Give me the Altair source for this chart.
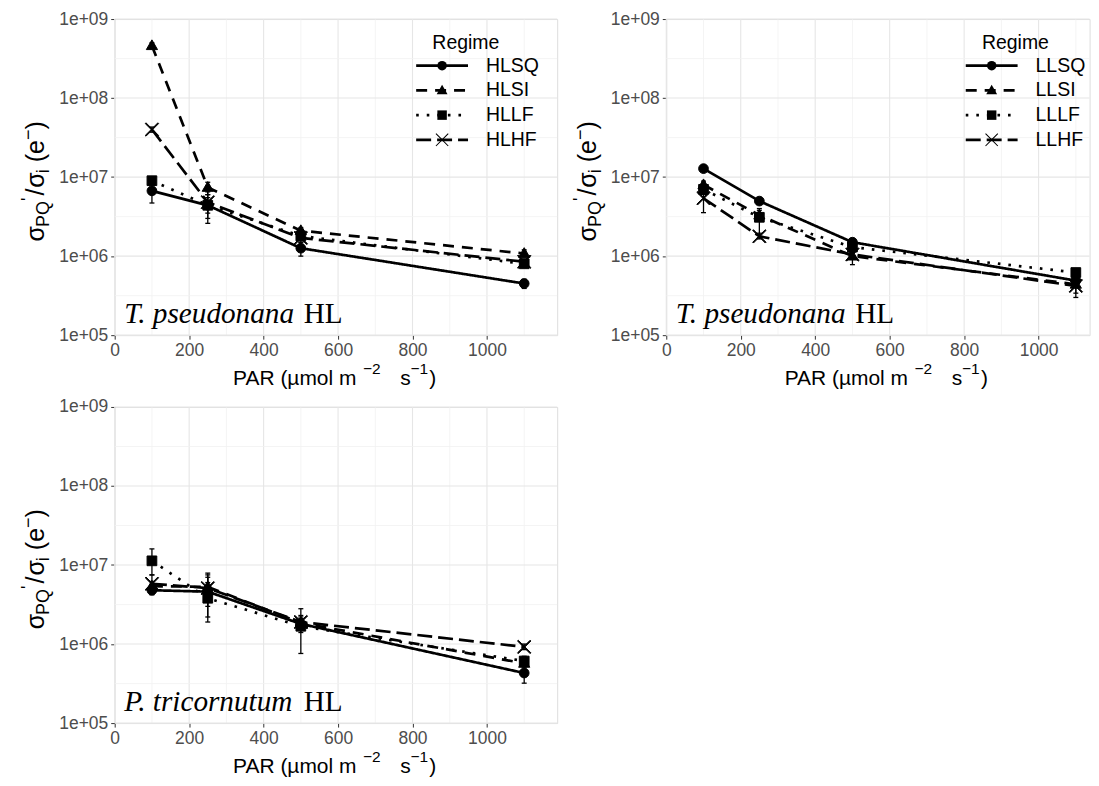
import math
import altair as alt
import pandas as pd

# ---------------- data ----------------
PAR = [100, 250, 500, 1100]

# Panel A: T. pseudonana, HL regimes
A_REGIMES = ["HLSQ", "HLSI", "HLLF", "HLHF"]
A_HLSQ = [6.7e6, 4.4e6, 1.26e6, 4.5e5]
A_HLSI = [4.6e8, 7.4e6, 2.1e6, 1.08e6]
A_HLLF = [9.0e6, 4.4e6, 1.8e6, 8.0e5]
A_HLHF = [4.0e7, 4.8e6, 1.7e6, 8.5e5]
A_HLSQ_LO = [4.7e6, 2.6e6, 1.0e6, 3.9e5]
A_HLSQ_HI = [8.5e6, 6.0e6, 1.5e6, 5.1e5]
A_HLSI_LO = [4.2e8, 6.0e6, 1.9e6, 9.8e5]
A_HLSI_HI = [5.0e8, 8.6e6, 2.3e6, 1.2e6]
A_HLLF_LO = [8.0e6, 3.5e6, 1.6e6, 7.2e5]
A_HLLF_HI = [1.0e7, 5.5e6, 2.0e6, 8.8e5]
A_HLHF_LO = [3.7e7, 3.0e6, 1.5e6, 7.8e5]
A_HLHF_HI = [4.3e7, 6.5e6, 1.9e6, 9.2e5]

# Panel B: T. pseudonana, LL regimes
B_REGIMES = ["LLSQ", "LLSI", "LLLF", "LLHF"]
B_LLSQ = [1.28e7, 4.97e6, 1.5e6, 4.9e5]
B_LLSI = [8.0e6, 3.3e6, 1.0e6, 4.4e5]
B_LLLF = [7.0e6, 3.1e6, 1.3e6, 6.2e5]
B_LLHF = [5.4e6, 1.78e6, 1.05e6, 4.2e5]
B_LLSQ_LO = [1.2e7, 4.6e6, 1.4e6, 4.6e5]
B_LLSQ_HI = [1.38e7, 5.4e6, 1.6e6, 5.2e5]
B_LLSI_LO = [7.2e6, 2.9e6, 7.8e5, 3.0e5]
B_LLSI_HI = [8.9e6, 3.8e6, 1.2e6, 5.4e5]
B_LLLF_LO = [6.0e6, 1.7e6, 1.1e6, 5.7e5]
B_LLLF_HI = [8.0e6, 4.0e6, 1.5e6, 6.8e5]
B_LLHF_LO = [3.55e6, 1.65e6, 9.5e5, 3.4e5]
B_LLHF_HI = [7.0e6, 1.95e6, 1.15e6, 5.0e5]

# Panel C: P. tricornutum, HL regimes
C_REGIMES = ["HLSQ", "HLSI", "HLLF", "HLHF"]
C_HLSQ = [4.8e6, 4.6e6, 1.8e6, 4.3e5]
C_HLSI = [5.4e6, 5.3e6, 1.85e6, 5.7e5]
C_HLLF = [1.13e7, 3.8e6, 1.68e6, 6.1e5]
C_HLHF = [5.8e6, 5.1e6, 1.9e6, 9.2e5]
C_HLSQ_LO = [4.2e6, 3.0e6, 1.5e6, 3.2e5]
C_HLSQ_HI = [5.4e6, 7.5e6, 2.1e6, 5.2e5]
C_HLSI_LO = [4.8e6, 2.2e6, 1.4e6, 5.0e5]
C_HLSI_HI = [6.2e6, 7.9e6, 2.3e6, 6.5e5]
C_HLLF_LO = [7.5e6, 1.9e6, 7.6e5, 5.4e5]
C_HLLF_HI = [1.6e7, 6.0e6, 2.8e6, 7.0e5]
C_HLHF_LO = [5.0e6, 3.5e6, 1.6e6, 8.5e5]
C_HLHF_HI = [7.5e6, 7.0e6, 2.2e6, 1.0e6]

SPECIES = ["T. pseudonana", "T. pseudonana", "P. tricornutum"]
LIGHT = "HL"

X_MAJOR = [0, 200, 400, 600, 800, 1000]
X_MINOR = [100, 300, 500, 700, 900, 1100]
Y_MAJOR = [1e5, 1e6, 1e7, 1e8, 1e9]
Y_MINOR = [3.162e5, 3.162e6, 3.162e7, 3.162e8]

# ---------------- style ----------------
SANS = "Liberation Sans"
SERIF = "Liberation Serif"
DASHES = [[1, 0], [11, 8], [2.6, 8], [15, 6]]


def x_marker_path(a=0.11, tip=1.3):
    # thin filled "x" (a plus sign turned by 45 degrees)
    L = tip * math.sqrt(2)
    pts = [(a, L), (a, a), (L, a), (L, -a), (a, -a), (a, -L),
           (-a, -L), (-a, -a), (-L, -a), (-L, a), (-a, a), (-a, L)]
    r = [((x - y) / math.sqrt(2), (x + y) / math.sqrt(2)) for x, y in pts]
    return "M" + "L".join(f"{x:.3f},{y:.3f}" for x, y in r) + "Z"


TRIANGLE = "M0,-1.2L1.15,0.8L-1.15,0.8Z"
SHAPES = ["circle", TRIANGLE, "square", x_marker_path()]
GRID = "#E6E6E6"
GRID_MINOR = "#F1F1F1"
ZW = "\u200b"  # keeps the marker legend separate from the line legend

W1, W2, H = 443.7, 424.5, 317.0
XMAX1 = 1188.6
XMAX2 = 1137.0

ONE = pd.DataFrame({"k": [0]})


def make_df(regimes, means, los, his):
    rows = []
    for r, m, lo, hi in zip(regimes, means, los, his):
        for x, a, b, c in zip(PAR, m, lo, hi):
            rows.append({"x": x, "y": a, "lo": b, "hi": c, "Regime": r, "Regime_": r + ZW})
    return pd.DataFrame(rows)


dfA = make_df(A_REGIMES, [A_HLSQ, A_HLSI, A_HLLF, A_HLHF],
              [A_HLSQ_LO, A_HLSI_LO, A_HLLF_LO, A_HLHF_LO],
              [A_HLSQ_HI, A_HLSI_HI, A_HLLF_HI, A_HLHF_HI])
dfB = make_df(B_REGIMES, [B_LLSQ, B_LLSI, B_LLLF, B_LLHF],
              [B_LLSQ_LO, B_LLSI_LO, B_LLLF_LO, B_LLHF_LO],
              [B_LLSQ_HI, B_LLSI_HI, B_LLLF_HI, B_LLHF_HI])
dfC = make_df(C_REGIMES, [C_HLSQ, C_HLSI, C_HLLF, C_HLHF],
              [C_HLSQ_LO, C_HLSI_LO, C_HLLF_LO, C_HLHF_LO],
              [C_HLSQ_HI, C_HLSI_HI, C_HLLF_HI, C_HLHF_HI])


def text_layer(txt, x, y, size, font=SANS, style="normal", angle=0, align="left"):
    return alt.Chart(ONE).mark_text(
        text=txt, font=font, fontSize=size, fontStyle=style, angle=angle,
        align=align, baseline="alphabetic", color="black"
    ).encode(x=alt.value(x), y=alt.value(y))


# approximate advance widths (em) for y-title layout
EM = {"σ": 0.58, "P": 0.667, "Q": 0.778, "'": 0.191, "/": 0.278, "i": 0.222,
      "(": 0.333, "e": 0.556, "−": 0.584, ")": 0.333}


def ytitle_layers():
    main, script = 25, 18
    base = -70.7
    pieces = [("σ", "m", 0), ("PQ", "b", 0), ("'", "p", 2), ("/", "m", 1), ("σ", "m", 0),
              ("i", "b", 7), ("(e", "m", 0), ("−", "p", 0), (")", "m", 0)]
    y = 223.0
    out = []
    for txt, kind, extra in pieces:
        size = main if kind == "m" else script
        bx = base + (5 if kind == "b" else (-10 if kind == "p" else 0))
        out.append(text_layer(txt, bx, y, size, angle=270))
        y -= sum(EM[c] for c in txt) * size + extra
    return out


def xtitle_layers(h):
    yb = h + 50
    ys = yb - 11
    return [
        text_layer("PAR (µmol m", 118.7, yb, 21),
        text_layer("−2", 249, ys, 15.5),
        text_layer("s", 286.3, yb, 21),
        text_layer("−1", 296.5, ys, 15.5),
        text_layer(")", 315.5, yb, 21),
    ]


def label_layers(species, h):
    yb = h - 11.7
    return [
        text_layer(species, 9.5, yb, 29.3, font=SERIF, style="italic"),
        text_layer(LIGHT, 9.5 + 180, yb, 29.3, font=SERIF),
    ]


XAXIS = alt.Axis(values=X_MAJOR, title=None, grid=False, domain=False, tickSize=4,
                 tickColor="#333333", tickWidth=1, labelColor="#4D4D4D", format="d",
                 labelFontSize=17.5, labelFont=SANS, labelPadding=2, labelFlush=False)
YAXIS = alt.Axis(values=Y_MAJOR, title=None, grid=False, domain=False, tickSize=4,
                 tickColor="#333333", tickWidth=1, labelColor="#4D4D4D",
                 labelFontSize=17.5, labelFont=SANS, labelPadding=3,
                 labelExpr="replace(format(datum.value, '.0e'), '+', '+0')")

LEG_X, LEG_Y = 318.55, 15.0


def legends(dx):
    common = dict(orient="none", legendX=LEG_X + dx, legendY=LEG_Y, padding=0,
                  titleFontSize=19.5, titleFont=SANS, titleFontWeight="normal",
                  titleColor="black", titleAnchor="start", titlePadding=2.5,
                  labelFontSize=19.5, labelFont=SANS, labelColor="black",
                  labelOffset=34.25, rowPadding=3.8)
    title = "\u00a0\u00a0Regime"
    line_leg = alt.Legend(title=title, symbolType="M-5.2,0L5.2,0", symbolSize=100,
                          symbolStrokeWidth=2.6, symbolStrokeColor="black",
                          symbolFillColor="transparent", symbolOpacity=1, **common)
    shape_leg = alt.Legend(title=title, titleOpacity=0, labelOpacity=0,
                           symbolSize=90, symbolStrokeWidth=1.0, symbolStrokeColor="black",
                           symbolFillColor="black", symbolOpacity=1, **common)
    return line_leg, shape_leg


def panel(df, regimes, xmax, width, species, show_legend, dx=0):
    xs = alt.Scale(domain=[0, xmax], nice=False, zero=False)
    ys = alt.Scale(type="log", domain=[1e5, 1e9], nice=False)

    def X(f):
        return alt.X(f"{f}:Q", scale=xs, axis=XAXIS)

    def Y(f):
        return alt.Y(f"{f}:Q", scale=ys, axis=YAXIS)

    xminor = [v for v in X_MINOR if v <= xmax]
    gx_minor = alt.Chart(pd.DataFrame({"x": xminor})).mark_rule(color=GRID_MINOR, strokeWidth=0.8).encode(x=X("x"))
    gx_major = alt.Chart(pd.DataFrame({"x": X_MAJOR})).mark_rule(color=GRID, strokeWidth=1.1).encode(x=X("x"))
    gy_minor = alt.Chart(pd.DataFrame({"y": Y_MINOR})).mark_rule(color=GRID_MINOR, strokeWidth=0.8).encode(y=Y("y"))
    gy_major = alt.Chart(pd.DataFrame({"y": Y_MAJOR})).mark_rule(color=GRID, strokeWidth=1.1).encode(y=Y("y"))

    err = alt.Chart(df).mark_rule(color="black", strokeWidth=1.3).encode(x=X("x"), y=Y("lo"), y2="hi:Q")
    cap_lo = alt.Chart(df).mark_tick(orient="horizontal", size=5, thickness=1.3, color="black", opacity=1).encode(x=X("x"), y=Y("lo"))
    cap_hi = alt.Chart(df).mark_tick(orient="horizontal", size=5, thickness=1.3, color="black", opacity=1).encode(x=X("x"), y=Y("hi"))

    if show_legend:
        line_leg, shape_leg = legends(dx)
    else:
        line_leg, shape_leg = None, None

    shape_domain = [r + ZW for r in regimes]
    lines = alt.Chart(df).mark_line(color="black", strokeWidth=2.7, strokeCap="butt").encode(
        x=X("x"), y=Y("y"),
        strokeDash=alt.StrokeDash("Regime:N", scale=alt.Scale(domain=regimes, range=DASHES),
                                  legend=line_leg))
    pts = alt.Chart(df).mark_point(filled=True, fill="black", stroke="black", strokeWidth=1.0,
                                   size=95, opacity=1).encode(
        x=X("x"), y=Y("y"),
        shape=alt.Shape("Regime_:N", scale=alt.Scale(domain=shape_domain, range=SHAPES),
                        legend=shape_leg))

    layers = [gx_minor, gx_major, gy_minor, gy_major, err, cap_lo, cap_hi, lines, pts]
    layers += label_layers(species, H)
    layers += ytitle_layers()
    layers += xtitle_layers(H)
    return alt.layer(*layers).properties(width=width, height=H)


pA = panel(dfA, A_REGIMES, XMAX1, W1, SPECIES[0], True)
pB = panel(dfB, B_REGIMES, XMAX2, W2, SPECIES[1], True, dx=-2)
pC = panel(dfC, C_REGIMES, XMAX1, W1, SPECIES[2], False)

chart = alt.concat(pA, pB, pC, columns=2, spacing={"row": 72, "column": 109.1}, bounds="flush").resolve_scale(
    strokeDash="independent", shape="independent"
).properties(
    padding={"left": 11, "top": 0, "right": 0, "bottom": 0}
).configure_view(stroke="#333333", strokeWidth=1.2).configure(font=SANS)

chart.save("out.html", embed_options={"renderer": "svg", "actions": False})
